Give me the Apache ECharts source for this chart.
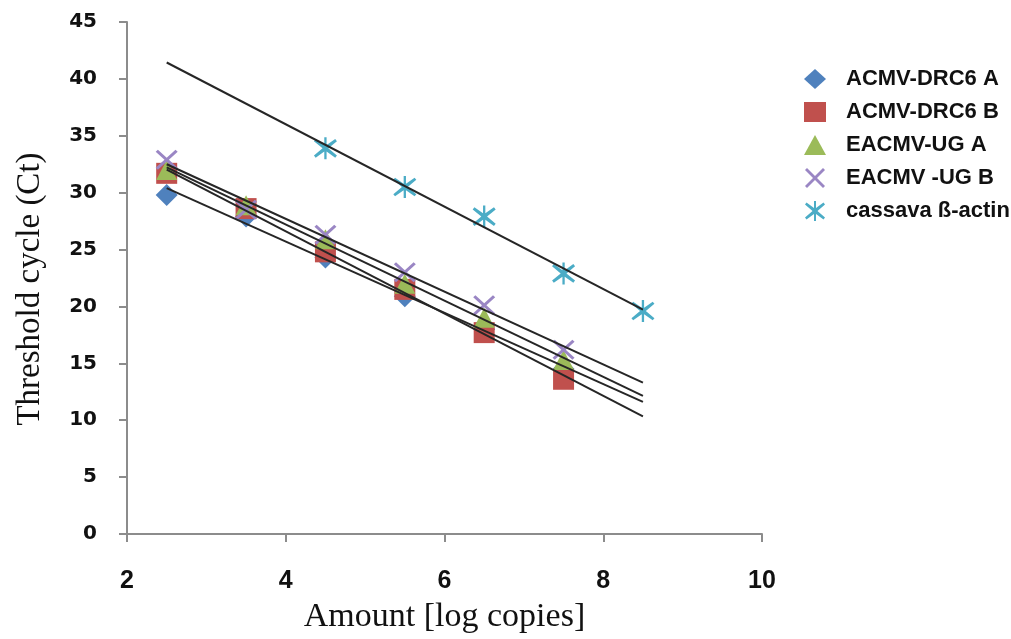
<!DOCTYPE html>
<html>
<head>
<meta charset="utf-8">
<script src="https://cdn.jsdelivr.net/npm/echarts@6/dist/echarts.min.js"></script>
<style>
html,body{margin:0;padding:0;background:#fff;}
#chart{width:1011px;height:639px;}
</style>
</head>
<body>
<div id="chart"></div>
<script>
// ---- data ----
const X_VALUES = [2.5, 3.5, 4.5, 5.5, 6.5, 7.5];
const X_ACTIN = [4.5, 5.5, 6.5, 7.5, 8.5];
const ACMV_DRC6_A = [29.8, 27.9, 24.3, 20.9, 18.0, 14.5];
const ACMV_DRC6_B = [31.7, 28.6, 24.8, 21.5, 17.7, 13.6];
const EACMV_UG_A = [32.0, 28.9, 25.9, 22.0, 19.0, 15.3];
const EACMV_UG_B = [32.9, 28.5, 26.3, 23.0, 20.1, 16.2];
const CASSAVA_ACTIN = [33.9, 30.5, 27.9, 22.9, 19.6];
const TREND_RANGE = [2.5, 8.5];
const SERIES_NAMES = ['ACMV-DRC6 A', 'ACMV-DRC6 B', 'EACMV-UG A', 'EACMV -UG B', 'cassava ß-actin'];
const X_TICKS = [2, 4, 6, 8, 10];
const Y_TICKS = [0, 5, 10, 15, 20, 25, 30, 35, 40, 45];

const COLORS = ['#4F81BD', '#C0504D', '#9BBB59', '#9A86C4', '#4BACC6'];
const X_PATH = 'path://M0,2 L2,0 L10,8 L18,0 L20,2 L12,10 L20,18 L18,20 L10,12 L2,20 L0,18 L8,10 Z';
const STAR_PATH = 'path://M0,3.5 L1.5,1.5 L9,7 L9,0 L11,0 L11,7 L18.5,1.5 L20,3.5 L12.5,10 L20,16.5 L18.5,18.5 L11,13 L11,20 L9,20 L9,13 L1.5,18.5 L0,16.5 L7.5,10 Z';
const SYMBOLS = ['diamond', 'rect', 'triangle', X_PATH, STAR_PATH];
const SIZES = [[22, 22], [21, 21], [21, 20], [22, 20], [23, 22]];

const GROUPS = [
  [X_VALUES, ACMV_DRC6_A],
  [X_VALUES, ACMV_DRC6_B],
  [X_VALUES, EACMV_UG_A],
  [X_VALUES, EACMV_UG_B],
  [X_ACTIN, CASSAVA_ACTIN]
];

function fit(xs, ys) {
  const n = xs.length;
  const mx = xs.reduce((a, b) => a + b, 0) / n;
  const my = ys.reduce((a, b) => a + b, 0) / n;
  let sxy = 0, sxx = 0;
  for (let i = 0; i < n; i++) { sxy += (xs[i] - mx) * (ys[i] - my); sxx += (xs[i] - mx) ** 2; }
  const b = sxy / sxx;
  return x => my + b * (x - mx);
}

const series = [];
GROUPS.forEach((g, i) => {
  series.push({
    name: SERIES_NAMES[i],
    type: 'scatter',
    symbol: SYMBOLS[i],
    symbolSize: SIZES[i],
    itemStyle: { color: COLORS[i], opacity: 1 },
    z: 2 + i,
    data: g[0].map((x, k) => [x, g[1][k]])
  });
});
GROUPS.forEach((g, i) => {
  const f = fit(g[0], g[1]);
  series.push({
    name: 'trend' + i,
    type: 'line',
    symbol: 'none',
    silent: true,
    z: 10,
    lineStyle: { color: '#262626', width: 2 },
    data: TREND_RANGE.map(x => [x, f(x)])
  });
});

const chart = echarts.init(document.getElementById('chart'));
chart.setOption({
  animation: false,
  backgroundColor: '#fff',
  grid: { left: 127, right: 249, top: 22, bottom: 105 },
  legend: {
    orient: 'vertical',
    left: 799,
    top: 60,
    itemWidth: 22,
    itemHeight: 20,
    itemGap: 5,
    data: SERIES_NAMES.map((n, i) => ({ name: n, icon: SYMBOLS[i] })),
    textStyle: {
      fontFamily: '"Liberation Sans", Arial, sans-serif',
      fontWeight: 'bold',
      fontSize: 22,
      lineHeight: 28,
      color: '#111',
      padding: [0, 0, 0, 15]
    }
  },
  xAxis: {
    type: 'value',
    min: X_TICKS[0],
    max: X_TICKS[X_TICKS.length - 1],
    interval: 2,
    name: 'Amount [log copies]',
    nameLocation: 'middle',
    nameGap: 66,
    nameTextStyle: { fontFamily: '"Liberation Serif", "Times New Roman", serif', fontSize: 34, color: '#111' },
    splitLine: { show: false },
    axisLine: { show: true, lineStyle: { color: '#8c8c8c', width: 2 } },
    axisTick: { show: true, inside: false, length: 8, lineStyle: { color: '#8c8c8c', width: 2 } },
    axisLabel: {
      margin: 35,
      fontFamily: '"Liberation Sans", Arial, sans-serif',
      fontWeight: 'bold',
      fontSize: 25,
      color: '#111'
    }
  },
  yAxis: {
    type: 'value',
    min: Y_TICKS[0],
    max: Y_TICKS[Y_TICKS.length - 1],
    interval: 5,
    name: 'Threshold cycle (Ct)',
    nameLocation: 'middle',
    nameGap: 80,
    nameTextStyle: {
      fontFamily: '"Liberation Serif", "Times New Roman", serif',
      fontSize: 33,
      color: '#111',
      padding: [0, 22, 0, 0]
    },
    splitLine: { show: false },
    axisLine: { show: true, lineStyle: { color: '#8c8c8c', width: 2 } },
    axisTick: { show: true, inside: false, length: 8, lineStyle: { color: '#8c8c8c', width: 2 } },
    axisLabel: {
      margin: 30,
      fontFamily: '"DejaVu Sans", Verdana, sans-serif',
      fontWeight: 'bold',
      fontSize: 20,
      color: '#111'
    }
  },
  series: series
});
</script>
</body>
</html>
